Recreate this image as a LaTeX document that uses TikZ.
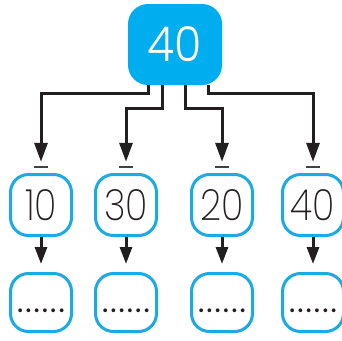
\documentclass[tikz,border=0pt]{standalone}
\usepackage{fontspec}
\newfontfamily\thintop{Poppins Light}[FakeStretch=0.92]
\newfontfamily\thinmid{Poppins ExtraLight}[FakeStretch=0.86]
\newfontfamily\dotfont{Poppins Medium}
\usetikzlibrary{arrows.meta,calc}
\definecolor{cyanfill}{HTML}{00AEEF}
\definecolor{cyanline}{HTML}{1BAAE4}
\definecolor{ink}{HTML}{231F20}
\tikzset{
  topbox/.style={fill=cyanfill,draw=none,rounded corners=20pt,minimum width=94pt,minimum height=81pt,inner sep=0pt,text=white,font=\thintop\fontsize{48}{48}\selectfont},
  midbox/.style={draw=cyanline,line width=3pt,rounded corners=18pt,minimum width=61pt,minimum height=61pt,inner sep=0pt,text=ink,font=\thinmid\fontsize{43}{43}\selectfont},
  botbox/.style={draw=cyanline,line width=3pt,rounded corners=18pt,minimum width=61pt,minimum height=58pt,inner sep=0pt},
  minusbar/.style={fill=ink!85,draw=none,minimum width=14pt,minimum height=2pt,inner sep=0pt},
  dots/.style={text=ink,font=\dotfont\fontsize{26}{26}\selectfont,inner sep=0pt},
  conn/.style={draw=ink,line width=3pt,-{Triangle[width=13pt,length=19pt]}},
  shortconn/.style={draw=ink,line width=3pt,-{Triangle[width=12pt,length=17pt]}},
}
\begin{document}
\begin{tikzpicture}[x=1pt,y=-1pt]
\useasboundingbox (0,0) rectangle (342,340);
\node[topbox] (top) at (175,44.5) {40};
\foreach \i/\x/\t in {1/41/10,2/126/30,3/222/20,4/313/40}{
  \node[minusbar] (n\i) at (\x,167) {};
  \node[midbox] (m\i) at (\x,205) {\t};
  \node[botbox] (b\i) at (\x,302.5) {};
  \node[dots] (d\i) at (\x,311) {.\kern2pt.\kern2pt.\kern2pt.\kern2pt.\kern2pt.};
  \draw[shortconn,shorten >=8pt] (m\i.south) -- (b\i.north);
}
\draw[conn] ([xshift=-27pt]top.south) -- ++(0,8.5) -| ([yshift=4pt]n1.north);
\draw[conn] ([xshift=-13pt]top.south) -- ++(0,23) -| ([yshift=4pt]n2.north);
\draw[conn] ([xshift=10pt]top.south) -- ++(0,23) -| ([yshift=4pt]n3.north);
\draw[conn] ([xshift=33pt]top.south) -- ++(0,8.5) -| ([yshift=4pt]n4.north);
\end{tikzpicture}
\end{document}
